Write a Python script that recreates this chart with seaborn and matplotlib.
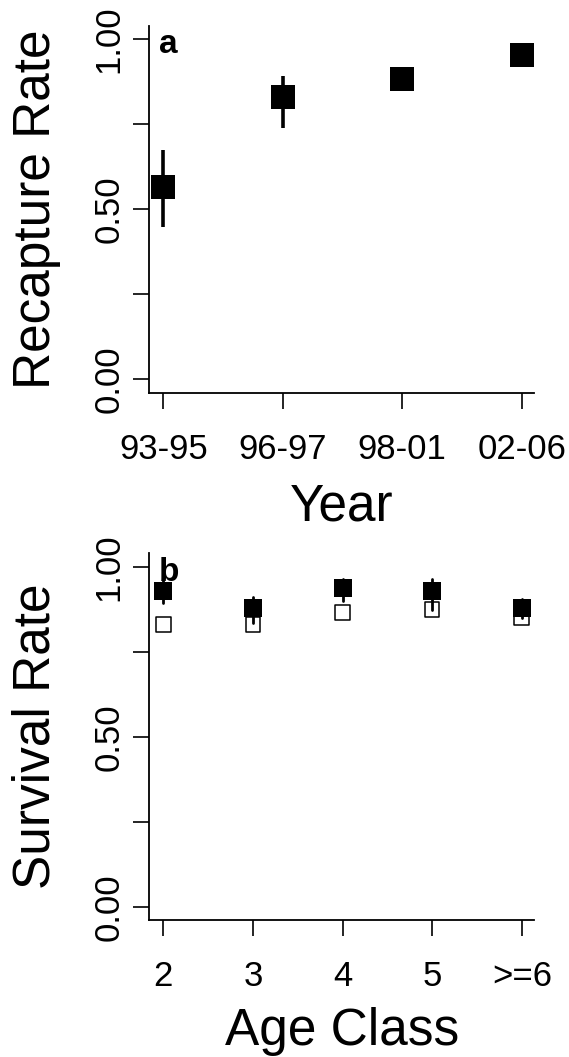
import matplotlib
matplotlib.use("Agg")
import matplotlib.pyplot as plt
import seaborn as sns
import pandas as pd

# Panel a: recapture rate by period
years = ["93-95", "96-97", "98-01", "02-06"]
recap = [0.566, 0.829, 0.882, 0.953]
recap_lo = [0.446, 0.740, 0.865, 0.940]
recap_hi = [0.673, 0.891, 0.898, 0.966]

# Panel b: survival rate by age class (two groups)
ages = ["2", "3", "4", "5", ">=6"]
surv_filled = [0.930, 0.878, 0.936, 0.929, 0.878]
surv_filled_lo = [0.894, 0.835, 0.899, 0.873, 0.848]
surv_filled_hi = [0.966, 0.910, 0.963, 0.963, 0.904]
surv_open = [0.829, 0.829, 0.865, 0.875, 0.849]

y_ticks = [0.0, 0.25, 0.5, 0.75, 1.0]
y_ticklabels = ["0.00", "", "0.50", "", "1.00"]

sns.set_style("ticks")
plt.rcParams["font.family"] = ["Liberation Sans", "DejaVu Sans"]
plt.rcParams.update({
    "text.color": "black",
    "axes.labelcolor": "black",
    "axes.edgecolor": "black",
    "xtick.color": "black",
    "ytick.color": "black",
})

W, H = 569, 1057
fig = plt.figure(figsize=(W / 100, H / 100), dpi=100)

def px_axes(left, right, top, bottom):
    return fig.add_axes([left / W, 1 - bottom / H, (right - left) / W, (bottom - top) / H])

ax_a = px_axes(149.3, 534.3, 25.7, 392.6)
ax_b = px_axes(149.3, 534.3, 553.1, 920.3)

TICK_FS = 25
LABEL_FS = 37

def style_axes(ax, xlabel, ylabel, letter, xlab_y):
    ax.set_ylim(-0.04, 1.04)
    ax.set_yticks(y_ticks)
    ax.set_yticklabels(y_ticklabels)
    for side in ("top", "right"):
        ax.spines[side].set_visible(False)
    for side in ("left", "bottom"):
        ax.spines[side].set_linewidth(1.3)
        ax.spines[side].set_color("black")
    ax.tick_params(axis="both", length=11.3, width=1.2, color="black",
                   labelsize=TICK_FS, labelcolor="black")
    ax.tick_params(axis="x", pad=17.5)
    ax.tick_params(axis="y", pad=6.0)
    for lab in ax.get_yticklabels():
        lab.set_rotation(90)
        lab.set_va("center")
    ax.set_xlabel(xlabel, fontsize=LABEL_FS, va="top", color="black")
    ax.xaxis.set_label_coords(0.5, xlab_y)
    ax.set_ylabel(ylabel, fontsize=LABEL_FS, color="black")
    ax.yaxis.set_label_coords(-0.230, 0.5)
    ax.text(0.025, 0.9248, letter, transform=ax.transAxes, fontsize=24,
            fontweight="bold", ha="left", va="baseline", color="black")
    ax.set_facecolor("white")

# ---- Panel a ----
df_a = pd.DataFrame({"year": years, "rate": recap, "lo": recap_lo, "hi": recap_hi})
ax_a.vlines(df_a["year"], df_a["lo"], df_a["hi"], color="black", linewidth=2.6,
            capstyle="butt", zorder=2)
sns.scatterplot(data=df_a, x="year", y="rate", marker="s", s=17.0 ** 2,
                color="black", edgecolor="black", linewidth=0, ax=ax_a, zorder=3)
ax_a.set_xlim(-0.117, 3.105)
style_axes(ax_a, "Year", "Recapture Rate", "a", -0.245)

# ---- Panel b ----
df_b = pd.DataFrame({"age": ages, "filled": surv_filled, "lo": surv_filled_lo,
                     "hi": surv_filled_hi, "open": surv_open})
sns.scatterplot(data=df_b, x="age", y="open", marker="s", s=10.6 ** 2,
                facecolor="none", edgecolor="black", linewidth=1.1, ax=ax_b, zorder=2)
sns.scatterplot(data=df_b, x="age", y="filled", marker="s", s=12.3 ** 2,
                color="black", edgecolor="black", linewidth=0, ax=ax_b, zorder=3)
ax_b.vlines(df_b["age"], df_b["lo"], df_b["hi"], color="black", linewidth=2.0,
            capstyle="round", zorder=4)
ax_b.set_xlim(-0.156, 4.14)
style_axes(ax_b, "Age Class", "Survival Rate", "b", -0.236)

fig.savefig("out.png", dpi=100, facecolor="white")
